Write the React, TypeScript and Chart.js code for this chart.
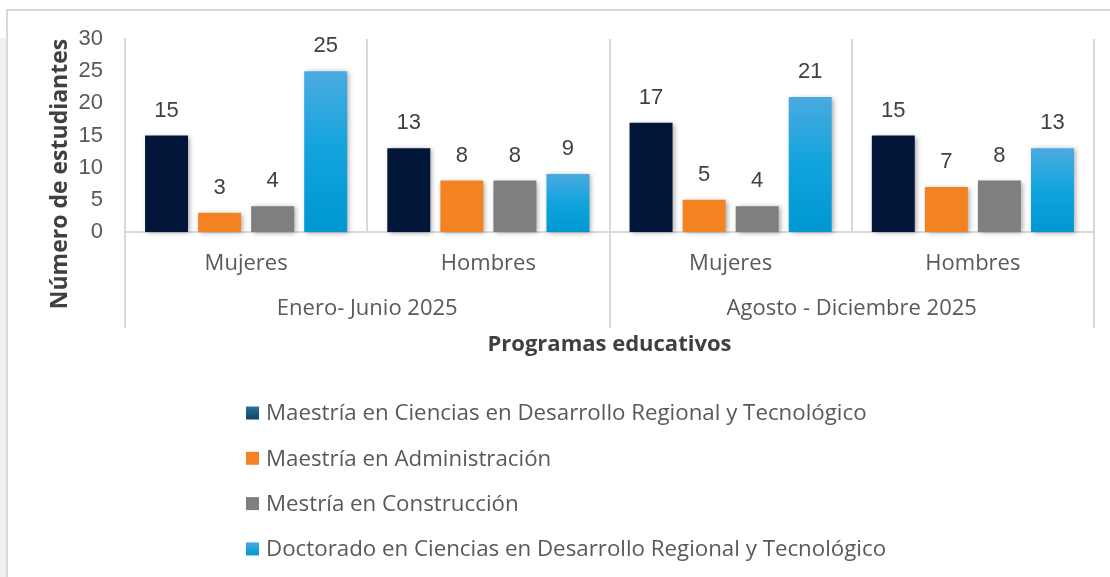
import React, { useEffect, useRef } from "react";
import { Chart, registerables } from "chart.js";

Chart.register(...registerables);

// ---------------- data ----------------
const subCategories = ["Mujeres", "Hombres", "Mujeres", "Hombres"];
const periods = ["Enero- Junio 2025", "Agosto - Diciembre 2025"];
const seriesNames = [
  "Maestría en Ciencias en Desarrollo Regional y Tecnológico",
  "Maestría en Administración",
  "Mestría en Construcción",
  "Doctorado en Ciencias en Desarrollo Regional y Tecnológico",
];
const mcdrtValues = [15, 13, 17, 15];
const administracionValues = [3, 8, 5, 7];
const construccionValues = [4, 8, 4, 8];
const doctoradoValues = [25, 9, 21, 13];
const yTickValues = [0, 5, 10, 15, 20, 25, 30];
const yAxisTitle = "Número de estudiantes";
const xAxisTitle = "Programas educativos";

// ---------------- styles ----------------
const SANS = "'Open Sans', 'Noto Sans', sans-serif";
const NUM = "'Liberation Sans', Arial, sans-serif";
const LINE = "#d9d9d9";
const NAVY = "#011639";
const ORANGE = "#f58220";
const GRAY = "#7f7f7f";

const blueBar = (c: any) => {
  const chart = c.chart;
  if (c.type !== "data" || !chart.chartArea) return "#0ba0da";
  const y = chart.scales.y;
  const top = y.getPixelForValue(c.parsed ? c.parsed.y : 0);
  const bottom = y.getPixelForValue(0);
  const g = chart.ctx.createLinearGradient(0, top, 0, bottom);
  g.addColorStop(0, "#4aabe1");
  g.addColorStop(0.5, "#11a3dc");
  g.addColorStop(1, "#0097d3");
  return g;
};

const framePlugin = {
  id: "frame",
  beforeDraw(chart: any) {
    const { ctx, width, height } = chart;
    ctx.save();
    ctx.fillStyle = "#ffffff";
    ctx.fillRect(0, 0, width, height);
    ctx.fillStyle = "#f0f0f0";
    ctx.fillRect(0, 38, 6, height - 38);
    ctx.strokeStyle = LINE;
    ctx.lineWidth = 2;
    ctx.beginPath();
    ctx.moveTo(7, height + 2);
    ctx.lineTo(7, 10);
    ctx.lineTo(width + 2, 10);
    ctx.stroke();
    ctx.restore();
  },
};

const shadowPlugin = {
  id: "barShadow",
  beforeDatasetDraw(chart: any) {
    const ctx = chart.ctx;
    ctx.save();
    ctx.shadowColor = "rgba(0,0,0,0.35)";
    ctx.shadowBlur = 5;
    ctx.shadowOffsetX = 2;
    ctx.shadowOffsetY = 1;
  },
  afterDatasetDraw(chart: any) {
    chart.ctx.restore();
  },
};

const valueLabelPlugin = {
  id: "valueLabels",
  afterDatasetsDraw(chart: any) {
    const ctx = chart.ctx;
    ctx.save();
    ctx.font = `22px ${NUM}`;
    ctx.fillStyle = "#404040";
    ctx.textAlign = "center";
    ctx.textBaseline = "middle";
    chart.data.datasets.forEach((ds: any, di: number) => {
      const meta = chart.getDatasetMeta(di);
      meta.data.forEach((el: any, i: number) => {
        ctx.fillText(String(ds.data[i]), el.x, el.y - 25);
      });
    });
    ctx.restore();
  },
};

const yTitlePlugin = {
  id: "yTitle",
  afterDraw(chart: any) {
    const ctx = chart.ctx;
    ctx.save();
    ctx.translate(60, 174);
    ctx.rotate(-Math.PI / 2);
    ctx.font = `bold 23px ${SANS}`;
    ctx.fillStyle = "#404040";
    ctx.textAlign = "center";
    ctx.textBaseline = "middle";
    ctx.fillText(yAxisTitle, 0, 0);
    ctx.restore();
  },
};

const legendPlugin = {
  id: "vLegend",
  afterDraw(chart: any) {
    const ctx = chart.ctx;
    ctx.save();
    ctx.font = `22.3px ${SANS}`;
    ctx.textBaseline = "middle";
    ctx.textAlign = "left";
    chart.data.datasets.forEach((ds: any, i: number) => {
      const y = 413 + i * 45.3;
      const top = y - 6.5;
      let fill: any = ds.legendColor;
      if (Array.isArray(fill)) {
        const g = ctx.createLinearGradient(0, top, 0, top + 13);
        g.addColorStop(0, fill[0]);
        g.addColorStop(1, fill[1]);
        fill = g;
      }
      ctx.fillStyle = fill;
      ctx.fillRect(246, top, 13, 13);
      ctx.fillStyle = "#595959";
      ctx.fillText(ds.label, 266, y + 1);
    });
    ctx.restore();
  },
};

export default function App() {
  const ref = useRef<HTMLCanvasElement>(null);

  useEffect(() => {
    if (!ref.current) return;
    const common = { clip: false as any, categoryPercentage: 0.876, barPercentage: 0.81 };
    const chart = new Chart(ref.current, {
      type: "bar",
      data: {
        labels: subCategories,
        datasets: [
          { ...common, label: seriesNames[0], data: mcdrtValues, backgroundColor: NAVY, legendColor: ["#2f6f9a", "#0c4468"] } as any,
          { ...common, label: seriesNames[1], data: administracionValues, backgroundColor: ORANGE, legendColor: ORANGE } as any,
          { ...common, label: seriesNames[2], data: construccionValues, backgroundColor: GRAY, legendColor: GRAY } as any,
          { ...common, label: seriesNames[3], data: doctoradoValues, backgroundColor: blueBar, legendColor: ["#4aabe1", "#0097d3"] } as any,
        ],
      },
      options: {
        responsive: false,
        animation: false,
        events: [],
        layout: { padding: { top: 39, right: 16, bottom: 219, left: 0 } },
        plugins: {
          legend: { display: false },
          tooltip: { enabled: false },
          title: { display: false },
        },
        scales: {
          x: {
            type: "category",
            labels: subCategories,
            offset: true,
            weight: 0,
            grid: {
              display: true,
              offset: true,
              drawOnChartArea: true,
              drawTicks: true,
              tickLength: 96,
              color: LINE,
              lineWidth: 2,
              tickWidth: 2,
              tickColor: (c: any) => (c.index === 1 || c.index === 3 ? "rgba(0,0,0,0)" : LINE),
            },
            border: { display: true, color: LINE, width: 2 },
            ticks: {
              font: { family: SANS, size: 22 },
              color: "#595959",
              padding: -77,
              maxRotation: 0,
              minRotation: 0,
              autoSkip: false,
            },
            afterFit: (s: any) => {
              s.height = 55;
            },
          },
          x2: {
            type: "category",
            labels: periods,
            offset: true,
            position: "bottom",
            weight: 1,
            grid: { display: false, drawTicks: false },
            border: { display: false },
            ticks: {
              font: { family: SANS, size: 22 },
              color: "#595959",
              padding: 9,
              maxRotation: 0,
              minRotation: 0,
              autoSkip: false,
            },
            title: {
              display: true,
              text: xAxisTitle,
              font: { family: SANS, size: 22, weight: "bold" },
              color: "#404040",
              padding: { top: 0, bottom: 0 },
            },
            afterFit: (s: any) => {
              s.height = 71;
            },
          },
          y: {
            type: "linear",
            min: yTickValues[0],
            max: yTickValues[yTickValues.length - 1],
            afterBuildTicks: (s: any) => {
              s.ticks = yTickValues.map((v) => ({ value: v }));
            },
            ticks: {
              font: { family: NUM, size: 22 },
              color: "#595959",
              padding: 22,
            },
            grid: { display: false, drawTicks: false },
            border: { display: true, color: LINE, width: 2 },
            afterFit: (s: any) => {
              s.width = 125;
            },
          },
        } as any,
      },
      plugins: [framePlugin, shadowPlugin, valueLabelPlugin, yTitlePlugin, legendPlugin],
    } as any);
    return () => chart.destroy();
  }, []);

  return (
    <div style={{ position: "absolute", left: 0, top: 0, width: 1110, height: 577, background: "#fff" }}>
      <canvas ref={ref} width={1110} height={577} style={{ display: "block", width: 1110, height: 577 }} />
    </div>
  );
}
